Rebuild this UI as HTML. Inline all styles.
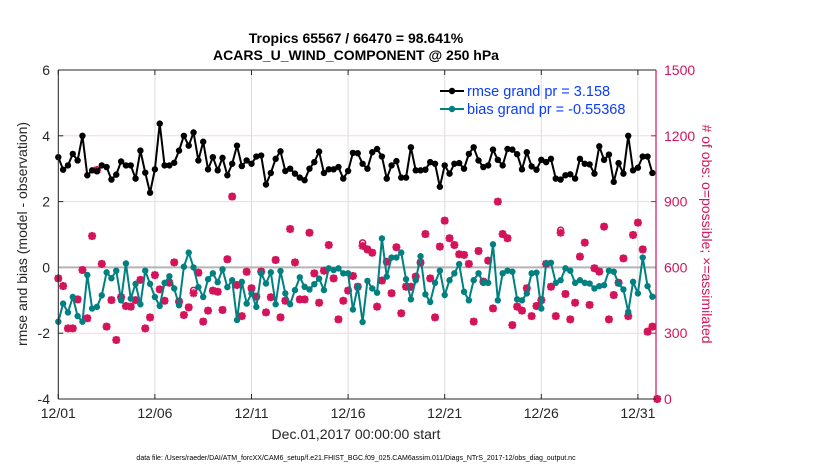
<!DOCTYPE html>
<html><head><meta charset="utf-8"><style>
body{margin:0;background:#fff;}
svg{display:block;font-family:"Liberation Sans",sans-serif;}
</style></head><body>
<svg id="chart" width="830" height="470"></svg>
<script>
const rmse=[3.35,2.97,3.1,3.45,3.25,4.0,2.8,2.95,2.92,3.1,3.05,2.67,2.82,3.22,3.1,3.1,2.7,3.55,2.88,2.27,2.98,4.37,3.1,3.1,3.18,3.55,4.0,3.7,4.1,3.25,3.82,2.98,3.35,2.95,3.33,2.8,3.15,3.7,3.08,3.25,3.15,3.37,3.4,2.52,2.87,3.3,3.53,2.93,3.0,2.85,2.73,2.65,3.0,3.2,3.52,2.87,2.98,2.98,3.05,2.7,2.93,3.48,3.47,3.15,3.0,3.5,3.6,3.37,2.7,3.1,3.23,2.73,2.73,3.65,2.95,2.95,2.97,3.2,3.15,2.45,3.1,2.85,3.15,3.17,3.0,3.45,3.65,3.25,3.05,3.1,3.58,3.27,3.1,3.6,3.58,3.44,2.98,3.5,3.07,2.97,3.27,3.2,3.3,2.7,2.67,2.8,2.83,2.7,3.3,3.15,3.13,2.85,3.68,3.27,3.43,2.6,3.17,2.85,4.0,2.95,3.03,3.37,3.37,2.87];
const bias=[-1.65,-1.1,-1.37,-0.9,-1.48,-1.65,-0.23,-1.25,-1.2,-0.85,-0.15,-0.33,-0.1,-1.0,0.12,-0.95,-0.5,-1.12,-0.1,-0.5,-0.9,-1.17,-0.47,-0.27,-0.64,-1.15,0.02,0.45,0,-0.6,-0.9,-0.36,-0.18,-0.45,-0.06,-0.6,-0.39,-1.6,
-0.44,-1.1,-0.79,-1.2,-0.18,-0.49,-0.15,-1.12,-0.11,-0.79,-1.12,-0.69,-0.3,-0.59,-0.67,-0.51,-0.34,-0.69,-0.03,-0.08,-0.03,-0.18,-0.18,-1.28,-0.59,-1.66,-0.41,-0.64,-0.77,0.88,-0.28,0.3,0.3,0.45,-0.36,-0.97,-0.39,0.34,-0.82,-1.05,-0.47,-0.1,
-0.84,-0.39,-0.18,0.1,-0.74,-1.0,-0.39,-0.18,-0.47,-0.47,0.7,-1.0,-0.18,-0.1,-0.13,-0.97,-1.0,-0.79,-0.18,-0.16,-1.25,0.12,0.14,-0.47,-0.39,-0.03,-0.1,-0.47,-0.39,-0.47,-0.49,-0.64,-0.57,-0.54,-0.1,-0.13,-0.49,-0.67,-1.35,-0.44,-0.79,0.3,-0.57,-0.89];
const assimilated=[550,515,322,322,454,588,368,743,1044,616,330,451,269,464,424,421,451,543,322,372,565,500,448,530,623,444,383,418,482,576,353,403,494,489,406,637,923,520,378,580,
505,467,581,395,464,634,372,448,775,623,454,454,758,573,439,585,702,550,363,448,494,561,512,698,682,667,421,540,626,482,692,391,512,512,558,622,752,550,372,695,
813,733,702,660,657,616,353,675,535,631,413,900,752,733,337,421,403,505,378,424,451,616,512,378,758,479,363,439,649,713,429,596,581,786,363,474,530,641,378,748,804,682,307,330,0];
const possible=assimilated.map(v=>v);
possible[28]=495;possible[63]=712;possible[104]=770;
const xTicks=["12/01","12/06","12/11","12/16","12/21","12/26","12/31"];
const yTicks=[6,4,2,0,-2,-4];
const y2Ticks=[0,300,600,900,1200,1500];

const svg=document.getElementById('chart');
const NS="http://www.w3.org/2000/svg";
const L=58.3,R=656,T=70,B=399;
const xd=d=>L+19.32*d;
const xi=i=>xd(i/4);
const yl=v=>T+(6-v)*(B-T)/10;
const yr=v=>B-v*(B-T)/1500;
function el(tag,attrs,parent){const e=document.createElementNS(NS,tag);for(const k in attrs)e.setAttribute(k,attrs[k]);(parent||svg).appendChild(e);return e;}
function tx(str,x,y,attrs){const e=el('text',Object.assign({x:x,y:y},attrs));e.textContent=str;return e;}

// plot background
const bg=el('rect',{x:L,y:T,width:R-L,height:B-T,fill:'#fff'});


// grid
xTicks.forEach((t,k)=>{const x=xd(k*5);
 const g=el('line',{x1:x,x2:x,y1:T,y2:B,stroke:'#dcdcdc','stroke-width':1});
 
 
 el('line',{x1:x,x2:x,y1:B,y2:B-5,stroke:'#262626'});
 el('line',{x1:x,x2:x,y1:T,y2:T+5,stroke:'#262626'});
 const lb=tx(t,x,418,{'font-size':14,'text-anchor':'middle',fill:'#262626'});
 
 
});
yTicks.forEach(v=>{const y=yl(v);
 if(v!==0&&v!==6&&v!==-4){const g=el('line',{x1:L,x2:R,y1:y,y2:y,stroke:'#f0d8e2','stroke-width':1});
 
 }
 el('line',{x1:L,x2:L+5,y1:y,y2:y,stroke:'#262626'});
 const lb=tx(String(v),50,y+5,{'font-size':14,'text-anchor':'end',fill:'#262626'});
 
 
});
y2Ticks.forEach(v=>{const y=yr(v);
 el('line',{x1:R,x2:R-5,y1:y,y2:y,stroke:'#d4145a'});
 const lb=tx(String(v),664,y+5,{'font-size':14,fill:'#d4145a'});
 
 
});
const zl=el('line',{x1:L,x2:R,y1:yl(0),y2:yl(0),stroke:'#b4b4b4','stroke-width':2});



// obs markers
const obsG=el('g',{});


function star(x,y,p){
 el('path',{d:`M${x-4} ${y}H${x+4}M${x} ${y-4}V${y+4}M${x-3} ${y-3}L${x+3} ${y+3}M${x-3} ${y+3}L${x+3} ${y-3}`,stroke:'#d4145a','stroke-width':2.2,fill:'none'},p);
}
possible.forEach((v,i)=>{const c=el('circle',{cx:xi(i),cy:yr(v),r:3,fill:'none',stroke:'#d4145a','stroke-width':1.5},obsG);
 
 });
assimilated.forEach((v,i)=>{const g=el('g',{},obsG);
 
 
 star(xi(i),yr(v),g);});

function series(arr,color,name){
 const g=el('g',{});
 
 
 el('polyline',{points:arr.map((v,i)=>xi(i)+','+yl(v)).join(' '),fill:'none',stroke:color,'stroke-width':2},g);
 arr.forEach((v,i)=>{const c=el('circle',{cx:xi(i),cy:yl(v),r:3.2,fill:color},g);
  
  });
}
series(rmse,'#000','rmse-series');
series(bias,'#008080','bias-series');

// axes box
el('line',{x1:L,x2:R,y1:T,y2:T,stroke:'#262626'});
el('line',{x1:L,x2:R,y1:B,y2:B,stroke:'#262626'});
el('line',{x1:L,x2:L,y1:T,y2:B,stroke:'#262626'});
el('line',{x1:R,x2:R,y1:T,y2:B,stroke:'#d4145a','stroke-width':1.2});

// legend
const lg=el('g',{});


[['rmse grand pr = 3.158','#000',91],['bias grand pr = -0.55368','#008080',109]].forEach(e=>{
 const g=el('g',{},lg);
 
 
 el('line',{x1:440,x2:464,y1:e[2],y2:e[2],stroke:e[1],'stroke-width':2},g);
 el('circle',{cx:452,cy:e[2],r:3.2,fill:e[1]},g);
 tx(e[0],467,e[2]+5,{'font-size':14.5,fill:'#0a3cff'},g);
});

// titles
let t=tx('Tropics 65567 / 66470 = 98.641%',356,43,{'font-size':14,'font-weight':'bold','text-anchor':'middle',fill:'#000'});


t=tx('ACARS_U_WIND_COMPONENT @ 250 hPa',356,60,{'font-size':14,'font-weight':'bold','text-anchor':'middle',fill:'#000'});


t=tx('rmse and bias (model - observation)',0,0,{'font-size':14,'text-anchor':'middle',fill:'#262626',transform:'translate(27,234) rotate(-90)'});


t=tx('# of obs: o=possible; \u00d7=assimilated',0,0,{'font-size':14,'text-anchor':'middle',fill:'#d4145a',transform:'translate(702,234) rotate(90)'});


t=tx('Dec.01,2017 00:00:00 start',356,439,{'font-size':14,'text-anchor':'middle',fill:'#262626'});


t=tx('data file: /Users/raeder/DAI/ATM_forcXX/CAM6_setup/f.e21.FHIST_BGC.f09_025.CAM6assim.011/Diags_NTrS_2017-12/obs_diag_output.nc',356,460,{'font-size':7,'text-anchor':'middle',fill:'#000'});


</script>
</body></html>
